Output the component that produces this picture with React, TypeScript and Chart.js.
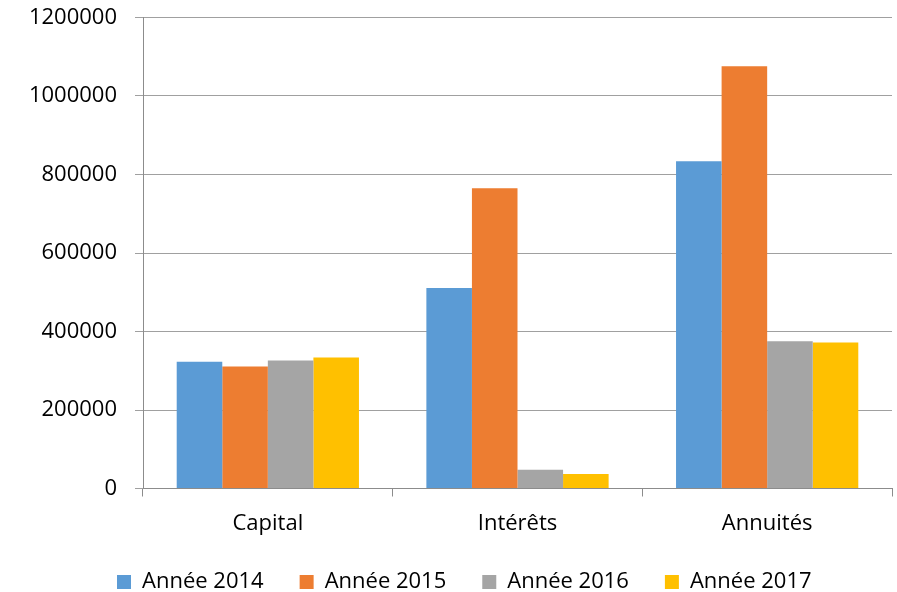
import React, { useEffect, useRef } from "react";
import { Chart, registerables } from "chart.js";

Chart.register(...registerables);

const categories = ["Capital", "Intérêts", "Annuités"];
const seriesLabels = ["Année 2014", "Année 2015", "Année 2016", "Année 2017"];
const values2014 = [323000, 511000, 834000];
const values2015 = [311000, 765000, 1076000];
const values2016 = [326000, 48000, 375000];
const values2017 = [334000, 37000, 372000];
const seriesColors = ["#5B9BD5", "#ED7D31", "#A5A5A5", "#FFC000"];
const yTicks = [0, 200000, 400000, 600000, 800000, 1000000, 1200000];

const legendShift = {
  id: "legendShift",
  beforeDraw(chart: any) {
    if (chart.legend) chart.legend.left = 81;
  },
};

export default function App() {
  const ref = useRef<HTMLCanvasElement | null>(null);
  useEffect(() => {
    document.body.style.margin = "0";
    const canvas = ref.current;
    if (!canvas) return;
    const series = [values2014, values2015, values2016, values2017];
    const font = { family: "'Open Sans'", size: 22 };
    const chart = new Chart(canvas, {
      type: "bar",
      data: {
        labels: categories,
        datasets: series.map((vals, i) => ({
          label: seriesLabels[i],
          data: vals,
          backgroundColor: seriesColors[i],
          borderWidth: 0,
          categoryPercentage: 0.73,
          barPercentage: 1,
        })),
      },
      options: {
        animation: false,
        responsive: false,
        maintainAspectRatio: false,
        devicePixelRatio: 1,
        layout: { padding: { top: 17.5, left: 0, right: 5, bottom: -11 } },
        plugins: {
          tooltip: { enabled: false },
          legend: {
            position: "bottom",
            align: "start",
            labels: {
              boxWidth: 14,
              boxHeight: 14,
              padding: 36,
              color: "#000",
              font,
            },
          },
        },
        scales: {
          x: {
            offset: true,
            grid: {
              offset: true,
              drawOnChartArea: false,
              tickLength: 8,
              color: "#8c8c8c",
            },
            border: { color: "#8c8c8c" },
            ticks: { color: "#000", font, padding: 14 },
            afterFit: (s: any) => {
              s.height = 46.5;
              s.paddingLeft = 0;
              s.paddingRight = 0;
            },
          },
          y: {
            min: yTicks[0],
            max: yTicks[yTicks.length - 1],
            afterBuildTicks: (s: any) => {
              s.ticks = yTicks.map((v) => ({ value: v }));
            },
            grid: { color: "#a0a0a0", tickLength: 8 },
            border: { color: "#8c8c8c" },
            ticks: {
              color: "#000",
              font,
              padding: 18,
              callback: (v: any) => String(v),
            },
            afterFit: (s: any) => {
              s.width = 143;
              s.paddingTop = 0;
              s.paddingBottom = 0;
            },
          },
        },
      },
      plugins: [legendShift],
    });
    return () => chart.destroy();
  }, []);
  return (
    <div style={{ width: 897, height: 592 }}>
      <canvas ref={ref} width={897} height={592} style={{ display: "block" }} />
    </div>
  );
}
